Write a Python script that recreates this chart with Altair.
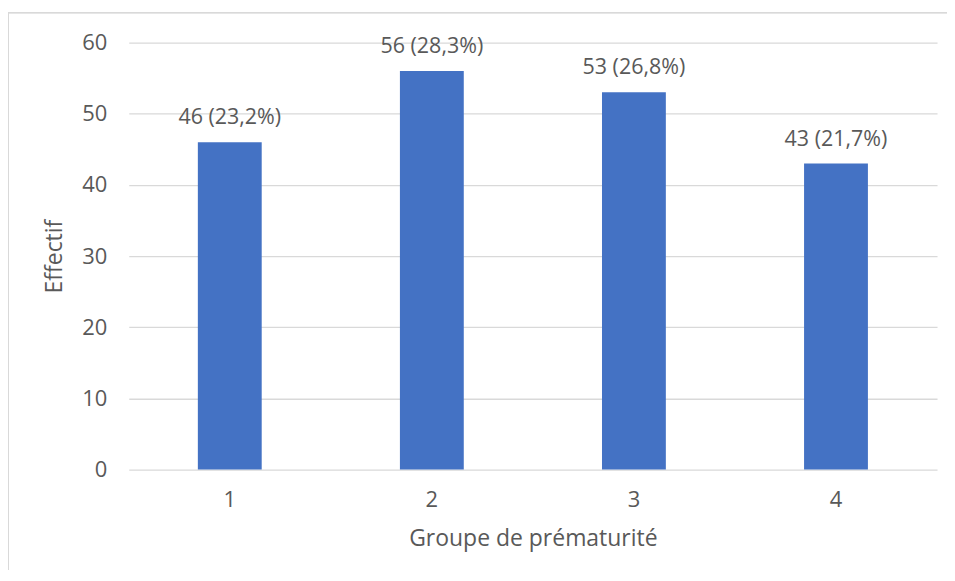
import altair as alt
import pandas as pd

groupes = ["1", "2", "3", "4"]
effectifs = [46, 56, 53, 43]
etiquettes = ["46 (23,2%)", "56 (28,3%)", "53 (26,8%)", "43 (21,7%)"]

df = pd.DataFrame({"groupe": groupes, "effectif": effectifs, "etiquette": etiquettes})

FONT = "Open Sans"
GREY = "#595959"

base = alt.Chart(df)

bars = base.mark_bar(color="#4472C4").encode(
    x=alt.X("groupe:N", sort=groupes,
            scale=alt.Scale(paddingInner=0.684, paddingOuter=0.342),
            axis=alt.Axis(title="Groupe de prématurité", labelAngle=0, ticks=False,
                          domain=False, labelPadding=20, titlePadding=17,
                          titleFontSize=23)),
    y=alt.Y("effectif:Q", scale=alt.Scale(domain=[0, 60]),
            axis=alt.Axis(title="Effectif", values=[0, 10, 20, 30, 40, 50, 60],
                          ticks=False, domain=False, labelPadding=22, titlePadding=15,
                          titleFontSize=23,
                          gridColor="#d9d9d9", gridWidth=1.3)),
)

labels = base.mark_text(dy=-18, font=FONT, fontSize=21.5, color=GREY, baseline="alphabetic").encode(
    x=alt.X("groupe:N", sort=groupes),
    y="effectif:Q",
    text="etiquette:N",
)

border_left = alt.Chart(df).mark_rule(color="#d9d9d9", strokeWidth=1.3).encode(
    x=alt.value(-121), y=alt.value(-30), y2=alt.value(600)
)
border_top = alt.Chart(df).mark_rule(color="#d9d9d9", strokeWidth=1.3).encode(
    x=alt.value(-121), x2=alt.value(900), y=alt.value(-30)
)

chart = alt.layer(border_left, border_top, bars, labels).properties(
    width=810, height=428,
    autosize=alt.AutoSizeParams(type="none"),
    padding={"left": 121, "top": 34, "right": 10, "bottom": 100},
).configure_view(stroke=None).configure_axis(
    labelFont=FONT, titleFont=FONT, labelFontSize=22, titleFontSize=22,
    labelColor=GREY, titleColor=GREY, titleFontWeight="normal",
)

chart.save("out.html", embed_options={"renderer": "svg", "actions": False})
